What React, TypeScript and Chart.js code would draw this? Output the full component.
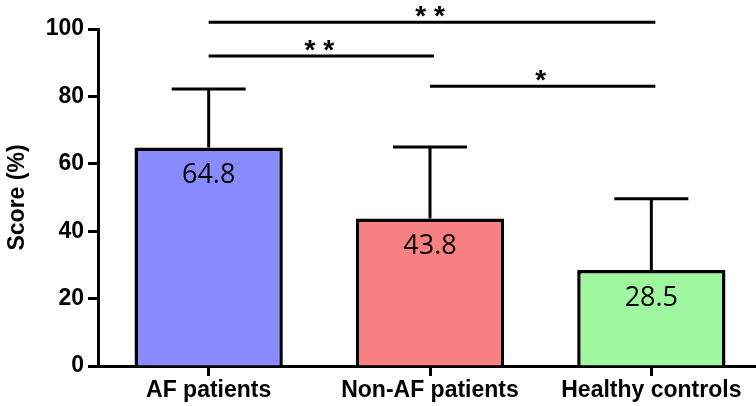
import React, { useEffect, useRef } from "react";
import { Chart, registerables } from "chart.js";

Chart.register(...registerables);

const categories = ["AF patients", "Non-AF patients", "Healthy controls"];
const meanScores = [64.8, 43.8, 28.5];
const sdScores = [17.4, 21.2, 21.1];
const valueLabels = ["64.8", "43.8", "28.5"];
const barColors = ["#8a8aff", "#f98080", "#9ff79f"];
const yTicks = [0, 20, 40, 60, 80, 100];

const sigFrom = [0, 0, 1];
const sigTo = [2, 1, 2];
const sigLevel = [102, 92, 83];
const sigLabel = ["* *", "* *", "*"];

const overlayPlugin = {
  id: "overlay",
  afterDatasetsDraw(chart: any) {
    const ctx = chart.ctx;
    const x = chart.scales.x;
    const y = chart.scales.y;
    const meta = chart.getDatasetMeta(0);
    ctx.save();
    ctx.strokeStyle = "#000";
    ctx.fillStyle = "#000";
    ctx.lineWidth = 3;
    ctx.lineCap = "butt";
    meta.data.forEach((bar: any, i: number) => {
      const top = y.getPixelForValue(meanScores[i] + sdScores[i]);
      const base = y.getPixelForValue(meanScores[i]);
      ctx.beginPath();
      ctx.moveTo(bar.x, base);
      ctx.lineTo(bar.x, top);
      ctx.moveTo(bar.x - 37, top);
      ctx.lineTo(bar.x + 37, top);
      ctx.stroke();
      ctx.font = "27px 'Open Sans'";
      ctx.textAlign = "center";
      ctx.textBaseline = "middle";
      ctx.fillText(valueLabels[i], bar.x, base + 28);
    });
    sigFrom.forEach((f: number, k: number) => {
      const x1 = x.getPixelForValue(f);
      const x2 = x.getPixelForValue(sigTo[k]);
      const yy = y.getPixelForValue(sigLevel[k]);
      ctx.beginPath();
      ctx.moveTo(x1, yy);
      ctx.lineTo(x2 + 4, yy);
      ctx.stroke();
      ctx.font = "bold 28px 'Liberation Sans'";
      ctx.textAlign = "center";
      ctx.textBaseline = "alphabetic";
      ctx.fillText(sigLabel[k], (x1 + x2) / 2, yy + 3);
    });
    ctx.restore();
  },
};

export default function App() {
  const ref = useRef<HTMLCanvasElement | null>(null);
  useEffect(() => {
    document.body.style.margin = "0";
    document.body.style.overflow = "hidden";
    const chart = new Chart(ref.current as HTMLCanvasElement, {
      type: "bar",
      data: {
        labels: categories,
        datasets: [
          {
            data: meanScores,
            backgroundColor: barColors,
            borderColor: "#000",
            borderWidth: 3.5,
            borderSkipped: "bottom",
            barPercentage: 0.67,
            categoryPercentage: 1,
          },
        ],
      },
      options: {
        responsive: false,
        animation: false,
        layout: { padding: { top: 29, right: 2, left: 0, bottom: 0 } },
        plugins: { legend: { display: false }, tooltip: { enabled: false } },
        scales: {
          x: {
            afterFit(scale: any) {
              scale.height = 40;
            },
            grid: {
              display: true,
              drawOnChartArea: false,
              drawTicks: true,
              tickLength: 10,
              tickWidth: 3,
              tickColor: "#000",
              offset: false,
            },
            border: { display: true, color: "#000", width: 3 },
            ticks: {
              color: "#000",
              padding: 1,
              font: { family: "'Liberation Sans'", size: 23, weight: "bold" },
              maxRotation: 0,
            },
          },
          y: {
            min: 0,
            max: 100,
            afterFit(scale: any) {
              scale.width = 98;
            },
            afterBuildTicks(scale: any) {
              scale.ticks = yTicks.map((v) => ({ value: v }));
            },
            grid: {
              display: true,
              drawOnChartArea: false,
              drawTicks: true,
              tickLength: 10,
              tickWidth: 3,
              tickColor: "#000",
            },
            border: { display: true, color: "#000", width: 3 },
            ticks: {
              color: "#000",
              padding: 4,
              font: { family: "'Liberation Sans'", size: 23, weight: "bold" },
            },
            title: {
              display: true,
              text: "Score (%)",
              color: "#000",
              padding: { top: 4, bottom: 0 },
              font: { family: "'Liberation Sans'", size: 23, weight: "bold" },
            },
          },
        },
      },
      plugins: [overlayPlugin],
    });
    return () => chart.destroy();
  }, []);
  return (
    <div style={{ width: 756, height: 406, overflow: "hidden", position: "relative" }}>
      <canvas ref={ref} width={764} height={406} style={{ width: 764, height: 406, display: "block" }} />
    </div>
  );
}
